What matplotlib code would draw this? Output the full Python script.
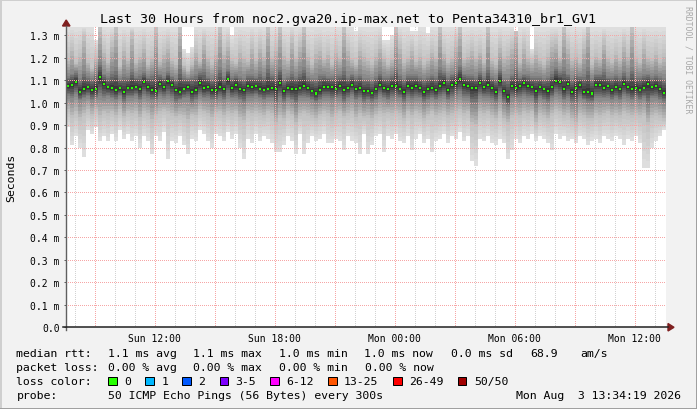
import numpy as np
import matplotlib.pyplot as plt
from matplotlib.patches import Rectangle, Polygon
from matplotlib.lines import Line2D
from matplotlib.colors import to_rgba, to_rgb

plt.rcParams['font.family'] = ['DejaVu Sans Mono']

W, H = 697, 410
bg = '#f2f2f2'

title = 'Last 30 Hours from noc2.gva20.ip-max.net to Penta34310_br1_GV1'
t_start = 7 + 34/60 + 19/3600   # Sun 07:34:19, in hours since Sun 00:00
step_h = 0.2                    # one column = 12 minutes, 150 columns = 30 h
y_top = 1.3375                  # ms

# median rtt per column, microseconds
median_us = [
    1074, 1079, 1093, 1049, 1061, 1068, 1055, 1062, 1113, 1083,
    1068, 1065, 1056, 1064, 1049, 1067, 1067, 1071, 1062, 1092,
    1071, 1056, 1053, 1083, 1071, 1096, 1079, 1056, 1049, 1062,
    1071, 1049, 1056, 1086, 1064, 1071, 1056, 1056, 1071, 1059,
    1104, 1064, 1077, 1062, 1056, 1074, 1070, 1073, 1062, 1058,
    1062, 1065, 1062, 1086, 1050, 1065, 1059, 1062, 1067, 1074,
    1065, 1053, 1041, 1056, 1071, 1071, 1068, 1062, 1074, 1056,
    1064, 1080, 1061, 1065, 1052, 1053, 1044, 1059, 1080, 1064,
    1059, 1074, 1074, 1062, 1049, 1074, 1067, 1076, 1064, 1047,
    1059, 1065, 1056, 1074, 1086, 1056, 1079, 1090, 1104, 1080,
    1074, 1064, 1067, 1088, 1070, 1079, 1064, 1049, 1098, 1052,
    1027, 1074, 1064, 1074, 1086, 1074, 1068, 1053, 1068, 1059,
    1053, 1068, 1098, 1093, 1059, 1083, 1049, 1064, 1077, 1047,
    1046, 1041, 1079, 1079, 1065, 1073, 1056, 1068, 1061, 1083,
    1070, 1059, 1067, 1058, 1067, 1083, 1068, 1073, 1061, 1044,
]

# smoke (ping spread) per column, in 0.01 ms
smoke_min = [
    89, 81, 85, 80, 76, 88, 86, 89, 83, 85,
    83, 86, 83, 88, 84, 86, 83, 85, 80, 85,
    83, 77, 85, 83, 87, 75, 83, 82, 85, 81,
    77, 84, 83, 88, 86, 83, 80, 86, 85, 83,
    87, 84, 86, 80, 75, 84, 82, 86, 83, 85,
    84, 82, 78, 78, 81, 85, 83, 77, 86, 77,
    82, 85, 83, 84, 86, 82, 82, 84, 83, 79,
    85, 83, 82, 77, 86, 77, 81, 85, 86, 78,
    85, 84, 86, 83, 82, 85, 79, 84, 86, 82,
    84, 78, 83, 84, 86, 82, 85, 84, 87, 83,
    85, 74, 72, 84, 83, 85, 82, 81, 84, 82,
    75, 79, 84, 82, 85, 84, 86, 83, 85, 84,
    82, 79, 86, 84, 85, 83, 84, 82, 85, 84,
    81, 83, 84, 82, 85, 84, 83, 85, 84, 81,
    84, 83, 85, 82, 71, 71, 80, 83, 85, 88,
]
smoke_lo_mid = [
    96, 93, 95, 92, 94, 96, 94, 96, 93, 95,
    94, 95, 93, 96, 93, 95, 94, 95, 92, 95,
    94, 91, 94, 95, 96, 95, 94, 93, 94, 93,
    91, 94, 93, 96, 95, 94, 92, 95, 95, 93,
    95, 94, 95, 92, 91, 95, 94, 95, 94, 93,
    95, 94, 90, 93, 92, 95, 94, 90, 94, 95,
    94, 93, 92, 94, 95, 94, 92, 94, 95, 93,
    94, 95, 92, 94, 93, 93, 92, 94, 95, 94,
    95, 94, 95, 94, 92, 95, 93, 95, 94, 92,
    94, 95, 93, 94, 95, 93, 94, 95, 96, 94,
    95, 90, 89, 95, 94, 95, 93, 92, 95, 92,
    90, 93, 94, 93, 95, 94, 95, 90, 94, 93,
    92, 94, 96, 95, 93, 94, 92, 90, 94, 93,
    92, 92, 94, 93, 94, 95, 93, 94, 93, 95,
    94, 93, 94, 93, 94, 90, 93, 94, 93, 92,
]
smoke_lo_core = [
    103, 102, 104, 101, 102, 103, 101, 102, 103, 102,
    103, 102, 101, 103, 100, 102, 102, 103, 101, 103,
    102, 101, 101, 103, 102, 103, 102, 100, 101, 102,
    102, 100, 101, 103, 102, 102, 101, 101, 102, 101,
    103, 102, 102, 101, 100, 102, 102, 103, 102, 101,
    102, 102, 99, 102, 100, 102, 101, 99, 102, 102,
    102, 101, 100, 101, 102, 102, 101, 102, 102, 100,
    102, 103, 101, 102, 100, 101, 100, 101, 103, 102,
    101, 102, 102, 102, 100, 102, 101, 102, 102, 100,
    101, 102, 101, 102, 103, 101, 102, 103, 104, 102,
    102, 99, 99, 103, 102, 102, 101, 100, 103, 100,
    98, 102, 102, 102, 103, 102, 102, 99, 102, 101,
    100, 102, 104, 103, 101, 102, 100, 99, 102, 101,
    100, 100, 102, 102, 102, 102, 101, 102, 101, 103,
    102, 101, 102, 101, 102, 99, 102, 102, 101, 100,
]
smoke_hi_core = [
    112, 113, 114, 111, 114, 112, 111, 113, 118, 113,
    112, 114, 116, 111, 113, 112, 115, 112, 113, 114,
    112, 113, 116, 113, 112, 114, 112, 111, 117, 112,
    111, 112, 113, 114, 115, 112, 111, 113, 116, 112,
    115, 112, 113, 112, 111, 113, 113, 112, 114, 112,
    117, 113, 113, 116, 111, 112, 114, 112, 114, 116,
    112, 111, 111, 113, 113, 112, 112, 113, 113, 116,
    112, 113, 112, 113, 111, 111, 110, 112, 114, 112,
    112, 113, 116, 113, 111, 113, 113, 113, 112, 111,
    112, 113, 112, 116, 114, 112, 113, 114, 117, 113,
    113, 113, 112, 114, 112, 116, 112, 111, 115, 111,
    111, 113, 116, 112, 113, 113, 112, 112, 112, 111,
    112, 114, 116, 114, 116, 113, 111, 113, 112, 113,
    116, 111, 113, 113, 115, 112, 112, 113, 112, 114,
    112, 116, 112, 112, 113, 113, 112, 113, 112, 111,
]
smoke_hi_mid = [
    120, 125, 118, 122, 130, 119, 116, 121, 134, 124,
    119, 127, 134, 117, 125, 120, 131, 119, 122, 126,
    118, 121, 134, 119, 123, 126, 120, 118, 134, 117,
    115, 118, 124, 119, 128, 121, 118, 123, 134, 123,
    127, 120, 118, 124, 121, 119, 126, 120, 126, 122,
    134, 121, 125, 134, 123, 120, 129, 121, 127, 134,
    122, 118, 124, 125, 120, 123, 118, 124, 121, 134,
    125, 120, 118, 125, 122, 120, 118, 122, 126, 121,
    118, 120, 134, 126, 119, 121, 125, 119, 122, 118,
    120, 124, 121, 134, 123, 119, 121, 127, 134, 120,
    122, 125, 121, 124, 119, 134, 120, 118, 126, 121,
    123, 126, 132, 119, 126, 121, 119, 123, 120, 118,
    122, 127, 128, 121, 134, 126, 120, 122, 119, 126,
    134, 118, 122, 120, 128, 121, 119, 123, 120, 127,
    122, 134, 121, 119, 126, 121, 120, 123, 119, 122,
]
smoke_max = [
    134, 134, 134, 134, 134, 134, 134, 128, 134, 134,
    134, 134, 134, 134, 134, 134, 134, 134, 134, 134,
    134, 134, 134, 134, 134, 134, 134, 134, 134, 124,
    122, 125, 134, 134, 134, 134, 134, 134, 134, 134,
    134, 130, 134, 134, 134, 134, 134, 134, 134, 134,
    134, 134, 134, 134, 134, 134, 134, 134, 134, 134,
    134, 134, 134, 134, 134, 134, 134, 134, 134, 134,
    134, 134, 132, 134, 134, 134, 134, 134, 134, 128,
    128, 130, 134, 134, 134, 134, 132, 132, 134, 134,
    131, 134, 134, 134, 134, 134, 134, 134, 134, 134,
    134, 134, 134, 134, 134, 134, 134, 134, 134, 134,
    134, 134, 132, 134, 134, 134, 124, 134, 134, 134,
    134, 134, 134, 134, 134, 134, 134, 134, 134, 134,
    134, 134, 134, 134, 134, 134, 134, 134, 134, 134,
    134, 134, 134, 134, 134, 134, 134, 134, 134, 134,
]

xtick_hours = [12, 18, 24, 30, 36]
xtick_labels = ['Sun 12:00', 'Sun 18:00', 'Mon 00:00', 'Mon 06:00', 'Mon 12:00']
ytick_vals = [i / 10 for i in range(14)]
ytick_labels = ['0.0'] + ['%.1f m' % v for v in ytick_vals[1:]]

rtt_stats = ['1.1 ms avg', '1.1 ms max', '1.0 ms min', '1.0 ms now', '0.0 ms sd', '68.9', 'am/s']
rtt_x = [107.6, 193.3, 279, 364.4, 451, 530, 580]
loss_stats = ['0.00 % avg', '0.00 % max', '0.00 % min', '0.00 % now']
loss_x = [107.6, 193.3, 279, 365]
loss_labels = ['0', '1', '2', '3-5', '6-12', '13-25', '26-49', '50/50']
loss_colors = ['#26ff00', '#00b8ff', '#0059ff', '#7e00ff', '#ff00ff', '#ff5500', '#ff0000', '#a10000']
loss_box_x = [108, 145.3, 182, 219.6, 270, 328, 393, 457.8]
probe_text = '50 ICMP Echo Pings (56 Bytes) every 300s'
stamp = 'Mon Aug  3 13:34:19 2026'


def fx(x):
    return x / W


def fy(y):
    return 1 - y / H


# canvas 600x300 px, placed on whole pixels
PW, PH = 600, 300
fig = plt.figure(figsize=(W / 100, H / 100), dpi=100, facecolor=bg)
ax = fig.add_axes([fx(66), fy(328), PW / W, PH / H])
ax.set_facecolor('white')
for s in ax.spines.values():
    s.set_visible(False)

n = len(median_us)
t_end = t_start + n * step_h
edges = t_start + step_h * np.arange(n + 1)


def ext(a):
    return np.append(a, a[-1])


# dotted grid drawn as pixel overlays (1 px on / 1 px off)
def grid_layer(cols=(), rows=(), color='red'):
    img = np.zeros((PH, PW, 4))
    rgba = to_rgba(color)
    for c in cols:
        if 0 <= c < PW:
            img[0::2, c] = rgba
    for r in rows:
        if 0 <= r < PH:
            img[r, 0::2] = rgba
    return img


minor_cols = [int(round((h - t_start) / (t_end - t_start) * PW)) for h in range(8, 38) if h % 3]
major_cols = [int(round((h - t_start) / (t_end - t_start) * PW)) for h in range(9, 38, 3)]
major_rows = [PH - int(round(v / y_top * PH)) for v in ytick_vals[1:]]

ext_box = (t_start, t_end, 0, y_top)
ax.imshow(grid_layer(cols=minor_cols, color='#d2d2d2'), extent=ext_box, origin='upper',
          aspect='auto', interpolation='nearest', zorder=0.5)

med = np.array(median_us) / 1000
levels = [
    (np.array(smoke_min) / 100, np.array(smoke_max) / 100, '#dedede'),
    (np.array(smoke_lo_mid) / 100, np.array(smoke_hi_mid) / 100, '#c0c0c0'),
    (np.array(smoke_lo_core) / 100, np.array(smoke_hi_core) / 100, '#808080'),
    (med, med, '#2a2a2a'),
]

# smoke: nested bands, darker towards the median
n_sub = 6
for (lo_a, hi_a, c_a), (lo_b, hi_b, c_b) in zip(levels[:-1], levels[1:]):
    ca, cb = np.array(to_rgb(c_a)), np.array(to_rgb(c_b))
    for s in range(n_sub):
        f = s / n_sub
        lo = lo_a + f * (lo_b - lo_a)
        hi = hi_a + f * (hi_b - hi_a)
        ax.fill_between(edges, ext(lo), ext(hi), step='post',
                        color=ca + f * (cb - ca), lw=0, zorder=1,
                        antialiased=False)

ax.imshow(grid_layer(cols=major_cols, rows=major_rows, color='#f6a6a6'), extent=ext_box,
          origin='upper', aspect='auto', interpolation='nearest', zorder=3)

# median
ax.bar(edges[:-1] + step_h / 2, 0.009, bottom=med - 0.0045, width=step_h * 0.7,
       color=loss_colors[0], lw=0, zorder=4)

ax.set_xlim(t_start, t_end)
ax.set_ylim(0, y_top)
ax.set_xticks(xtick_hours, xtick_labels)
ax.set_yticks(ytick_vals, ytick_labels)
ax.tick_params(axis='x', length=0, pad=4, labelsize=7)
ax.tick_params(axis='y', length=1.5, width=0.72, color='#606060', pad=3, labelsize=7)

# axes and arrows
fig.add_artist(Line2D([fx(66), fx(66)], [fy(331), fy(27)], color='#606060', lw=1.0))
fig.add_artist(Line2D([fx(63), fx(668)], [fy(328.3), fy(328.3)], color='#202020', lw=1.1))
fig.add_artist(Polygon([[fx(62.5), fy(27)], [fx(70), fy(27)], [fx(66.2), fy(21)]],
                       closed=True, color='#7f1f1f', transform=fig.transFigure))
fig.add_artist(Polygon([[fx(668), fy(324.5)], [fx(668), fy(332)], [fx(674), fy(328.3)]],
                       closed=True, color='#7f1f1f', transform=fig.transFigure))

# texts
fig.text(0.5, fy(19.3), title, ha='center', va='center', fontsize=9.6)
fig.text(fx(11), fy(178), 'Seconds', rotation=90, ha='center', va='center', fontsize=8.25)
fig.text(fx(688), fy(6), 'RRDTOOL / TOBI OETIKER', rotation=270, ha='center', va='top',
         fontsize=5.9, color='#a8a8a8')

fs = 8.25
rows = [354, 368, 382, 396]
fig.text(fx(16.4), fy(rows[0]), 'median rtt:', va='center', fontsize=fs)
for x, s in zip(rtt_x, rtt_stats):
    fig.text(fx(x), fy(rows[0]), s, va='center', fontsize=fs)
fig.text(fx(16.4), fy(rows[1]), 'packet loss:', va='center', fontsize=fs)
for x, s in zip(loss_x, loss_stats):
    fig.text(fx(x), fy(rows[1]), s, va='center', fontsize=fs)
fig.text(fx(16.4), fy(rows[2]), 'loss color:', va='center', fontsize=fs)
for x, s, c in zip(loss_box_x, loss_labels, loss_colors):
    fig.add_artist(Rectangle((fx(x), fy(386)), 8.5 / W, 8 / H, transform=fig.transFigure,
                             facecolor=c, edgecolor='black', lw=0.72))
    fig.text(fx(x + 16), fy(rows[2]), s, va='center', fontsize=fs)
fig.text(fx(16.4), fy(rows[3]), 'probe:', va='center', fontsize=fs)
fig.text(fx(107.6), fy(rows[3]), probe_text, va='center', fontsize=fs)
fig.text(fx(681), fy(rows[3]), stamp, va='center', ha='right', fontsize=fs)

# shaded frame
fig.add_artist(Line2D([0, 1], [fy(0.5), fy(0.5)], color='#cfcfcf', lw=1.4))
fig.add_artist(Line2D([fx(0.5), fx(0.5)], [0, 1], color='#cfcfcf', lw=1.4))
fig.add_artist(Line2D([0, 1], [fy(409.5), fy(409.5)], color='#9e9e9e', lw=1.4))
fig.add_artist(Line2D([fx(696.5), fx(696.5)], [0, 1], color='#9e9e9e', lw=1.4))

fig.savefig('out.png', dpi=100, facecolor=bg)
